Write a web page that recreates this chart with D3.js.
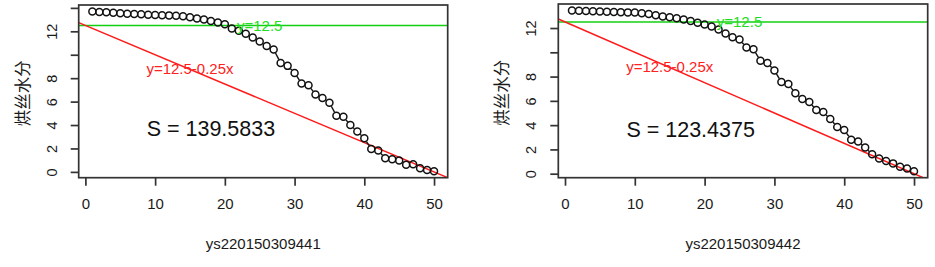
<!DOCTYPE html>
<html lang="zh">
<head>
<meta charset="UTF-8">
<title>烘丝水分</title>
<script src="https://cdn.jsdelivr.net/npm/d3@7"></script>
<style>
  body { margin: 0; background: #fff; }
  text { font-family: Arial, "Liberation Sans", sans-serif; fill: #1a1a1a; }
  .cjk { font-family: "Noto Sans CJK SC", sans-serif; }
</style>
</head>
<body>
<div id="chart"></div>
<script>
    // Data (x = 1..50)
    const xValues = d3.range(1, 51);

    const moisture441 = [
        13.70, 13.65, 13.62, 13.58, 13.55, 13.50, 13.47, 13.45, 13.42, 13.40,
        13.38, 13.36, 13.33, 13.28, 13.20, 13.10, 13.00, 12.88, 12.75, 12.60,
        12.25, 12.05, 11.80, 11.48, 11.14, 10.75, 10.45, 9.30, 9.05, 8.45,
        7.55, 7.40, 6.60, 6.30, 5.90, 4.80, 4.70, 4.00, 3.45, 2.88,
        1.95, 1.82, 1.17, 1.08, 0.97, 0.62, 0.65, 0.31, 0.17, 0.05
    ];

    const moisture442 = [
        13.45, 13.42, 13.40, 13.38, 13.36, 13.35, 13.33, 13.31, 13.29, 13.27,
        13.22, 13.15, 13.05, 12.95, 12.88, 12.80, 12.70, 12.58, 12.44, 12.30,
        12.12, 11.88, 11.55, 11.25, 11.05, 10.40, 10.25, 9.30, 9.12, 8.50,
        7.55, 7.38, 6.62, 6.15, 5.90, 5.25, 5.08, 4.50, 3.85, 3.60,
        2.80, 2.66, 2.15, 1.60, 1.25, 1.04, 0.85, 0.58, 0.42, 0.20
    ];

    const panelTitles = ["ys220150309441", "ys220150309442"];
    const areaLabels = ["S = 139.5833", "S = 123.4375"];

    const xTicks = [0, 10, 20, 30, 40, 50];
    const yTicks = [0, 2, 4, 6, 8, 10, 12, 14];
    const yTickLabels = ["0", "2", "4", "6", "8", "", "12", ""];

    const hLevel = 12.5;            // green line y = 12.5
    const lineIntercept = 12.5;     // red line y = 12.5 - 0.25x
    const lineSlope = -0.25;

    const svg = d3.select("#chart")
        .append("svg")
        .attr("width", 935)
        .attr("height", 267);

    svg.append("rect").attr("width", 935).attr("height", 267).attr("fill", "#fff");

    // draw one R style panel
    function drawPanel(values, title, areaText, box) {
        const g = svg.append("g");

        // R pads the data range by 4% on each side
        const xExt = d3.extent(xValues), yExt = d3.extent(values);
        const xPad = (xExt[1] - xExt[0]) * 0.04, yPad = (yExt[1] - yExt[0]) * 0.04;

        const x = d3.scaleLinear()
            .domain([xExt[0] - xPad, xExt[1] + xPad])
            .range([box.left, box.right]);
        const y = d3.scaleLinear()
            .domain([yExt[0] - yPad, yExt[1] + yPad])
            .range([box.bottom, box.top]);

        const clipId = "clip" + Math.round(box.left);
        svg.append("clipPath").attr("id", clipId)
            .append("rect")
            .attr("x", box.left).attr("y", box.top)
            .attr("width", box.right - box.left).attr("height", box.bottom - box.top);

        // reference lines, clipped to the plot region
        const lines = g.append("g").attr("clip-path", `url(#${clipId})`);
        const [d0, d1] = x.domain();
        lines.append("line")
            .attr("x1", x(d0)).attr("x2", x(d1))
            .attr("y1", y(hLevel)).attr("y2", y(hLevel))
            .attr("stroke", "#11d011")
            .attr("stroke-width", 1.6);
        lines.append("line")
            .attr("x1", x(d0)).attr("y1", y(lineIntercept + lineSlope * d0))
            .attr("x2", x(d1)).attr("y2", y(lineIntercept + lineSlope * d1))
            .attr("stroke", "#ff1a1a")
            .attr("stroke-width", 1.5);

        // connecting segments with gaps around points (type = "b")
        const r = 3.5, gap = r + 0.5;
        const pts = xValues.map((d, i) => [x(d), y(values[i])]);
        const segs = [];
        for (let i = 0; i < pts.length - 1; i++) {
            const [x0, y0] = pts[i], [x1, y1] = pts[i + 1];
            const len = Math.hypot(x1 - x0, y1 - y0);
            if (len > 2 * gap) {
                const ux = (x1 - x0) / len, uy = (y1 - y0) / len;
                segs.push([x0 + ux * gap, y0 + uy * gap, x1 - ux * gap, y1 - uy * gap]);
            }
        }
        g.selectAll(".seg")
            .data(segs)
            .enter().append("line")
            .attr("x1", d => d[0]).attr("y1", d => d[1])
            .attr("x2", d => d[2]).attr("y2", d => d[3])
            .attr("stroke", "#111")
            .attr("stroke-width", 1.4);

        g.selectAll(".pt")
            .data(xValues)
            .enter().append("circle")
            .attr("cx", d => x(d))
            .attr("cy", (d, i) => y(values[i]))
            .attr("r", r)
            .attr("fill", "none")
            .attr("stroke", "#111")
            .attr("stroke-width", 1.5);

        // annotations
        g.append("text")
            .attr("x", x(25)).attr("y", y(12.5))
            .attr("dy", "0.35em")
            .attr("text-anchor", "middle")
            .style("font-size", "15px")
            .style("fill", "#22dd22")
            .text("y=12.5");
        g.append("text")
            .attr("x", x(15)).attr("y", y(8.8))
            .attr("dy", "0.35em")
            .attr("text-anchor", "middle")
            .style("font-size", "15px")
            .style("fill", "#ff2020")
            .text("y=12.5-0.25x");
        g.append("text")
            .attr("x", x(18)).attr("y", y(3.7))
            .attr("dy", "0.36em")
            .attr("text-anchor", "middle")
            .style("font-size", "21.5px")
            .style("fill", "#111")
            .text(areaText);

        // box
        g.append("rect")
            .attr("x", box.left).attr("y", box.top)
            .attr("width", box.right - box.left).attr("height", box.bottom - box.top)
            .attr("fill", "none")
            .attr("stroke", "#333")
            .attr("stroke-width", 1.7);

        // x axis
        const xAxis = g.append("g")
            .attr("transform", `translate(0,${box.bottom})`)
            .call(d3.axisBottom(x).tickValues(xTicks).tickSize(8).tickPadding(13));
        xAxis.select(".domain").remove();
        xAxis.selectAll("line").attr("stroke", "#333").attr("stroke-width", 1.7);
        xAxis.selectAll("text")
            .style("font-size", "15px")
            .style("font-family", "Arial, 'Liberation Sans', sans-serif")
            .attr("fill", "#1a1a1a");

        // y axis with rotated labels
        const yShown = yTicks.filter(t => t >= y.domain()[0] && t <= y.domain()[1]);
        const yAxis = g.append("g")
            .attr("transform", `translate(${box.left},0)`)
            .call(d3.axisLeft(y).tickValues(yShown).tickSize(8)
                .tickFormat(t => yTickLabels[yTicks.indexOf(t)]));
        yAxis.select(".domain").remove();
        yAxis.selectAll("line").attr("stroke", "#333").attr("stroke-width", 1.7);
        yAxis.selectAll("text")
            .attr("x", 0).attr("dy", null)
            .attr("transform", "translate(-27,0) rotate(-90)")
            .attr("text-anchor", "middle")
            .attr("dominant-baseline", "central")
            .style("font-size", "14.5px")
            .style("font-family", "Arial, 'Liberation Sans', sans-serif")
            .attr("fill", "#1a1a1a");

        // axis titles
        g.append("text")
            .attr("x", (box.left + box.right) / 2)
            .attr("y", 249)
            .attr("text-anchor", "middle")
            .style("font-size", "15px")
            .text(title);
        g.append("text")
            .attr("class", "cjk")
            .attr("transform", `translate(${box.left - 57},${(box.top + box.bottom) / 2 + 2}) rotate(-90)`)
            .attr("text-anchor", "middle")
            .attr("dominant-baseline", "central")
            .style("font-size", "16.5px")
            .text("烘丝水分");
    }

    drawPanel(moisture441, panelTitles[0], areaLabels[0], { left: 78.7, right: 447.7, top: 5, bottom: 177.7 });
    drawPanel(moisture442, panelTitles[1], areaLabels[1], { left: 558.3, right: 927.7, top: 4, bottom: 177.7 });
</script>
</body>
</html>
